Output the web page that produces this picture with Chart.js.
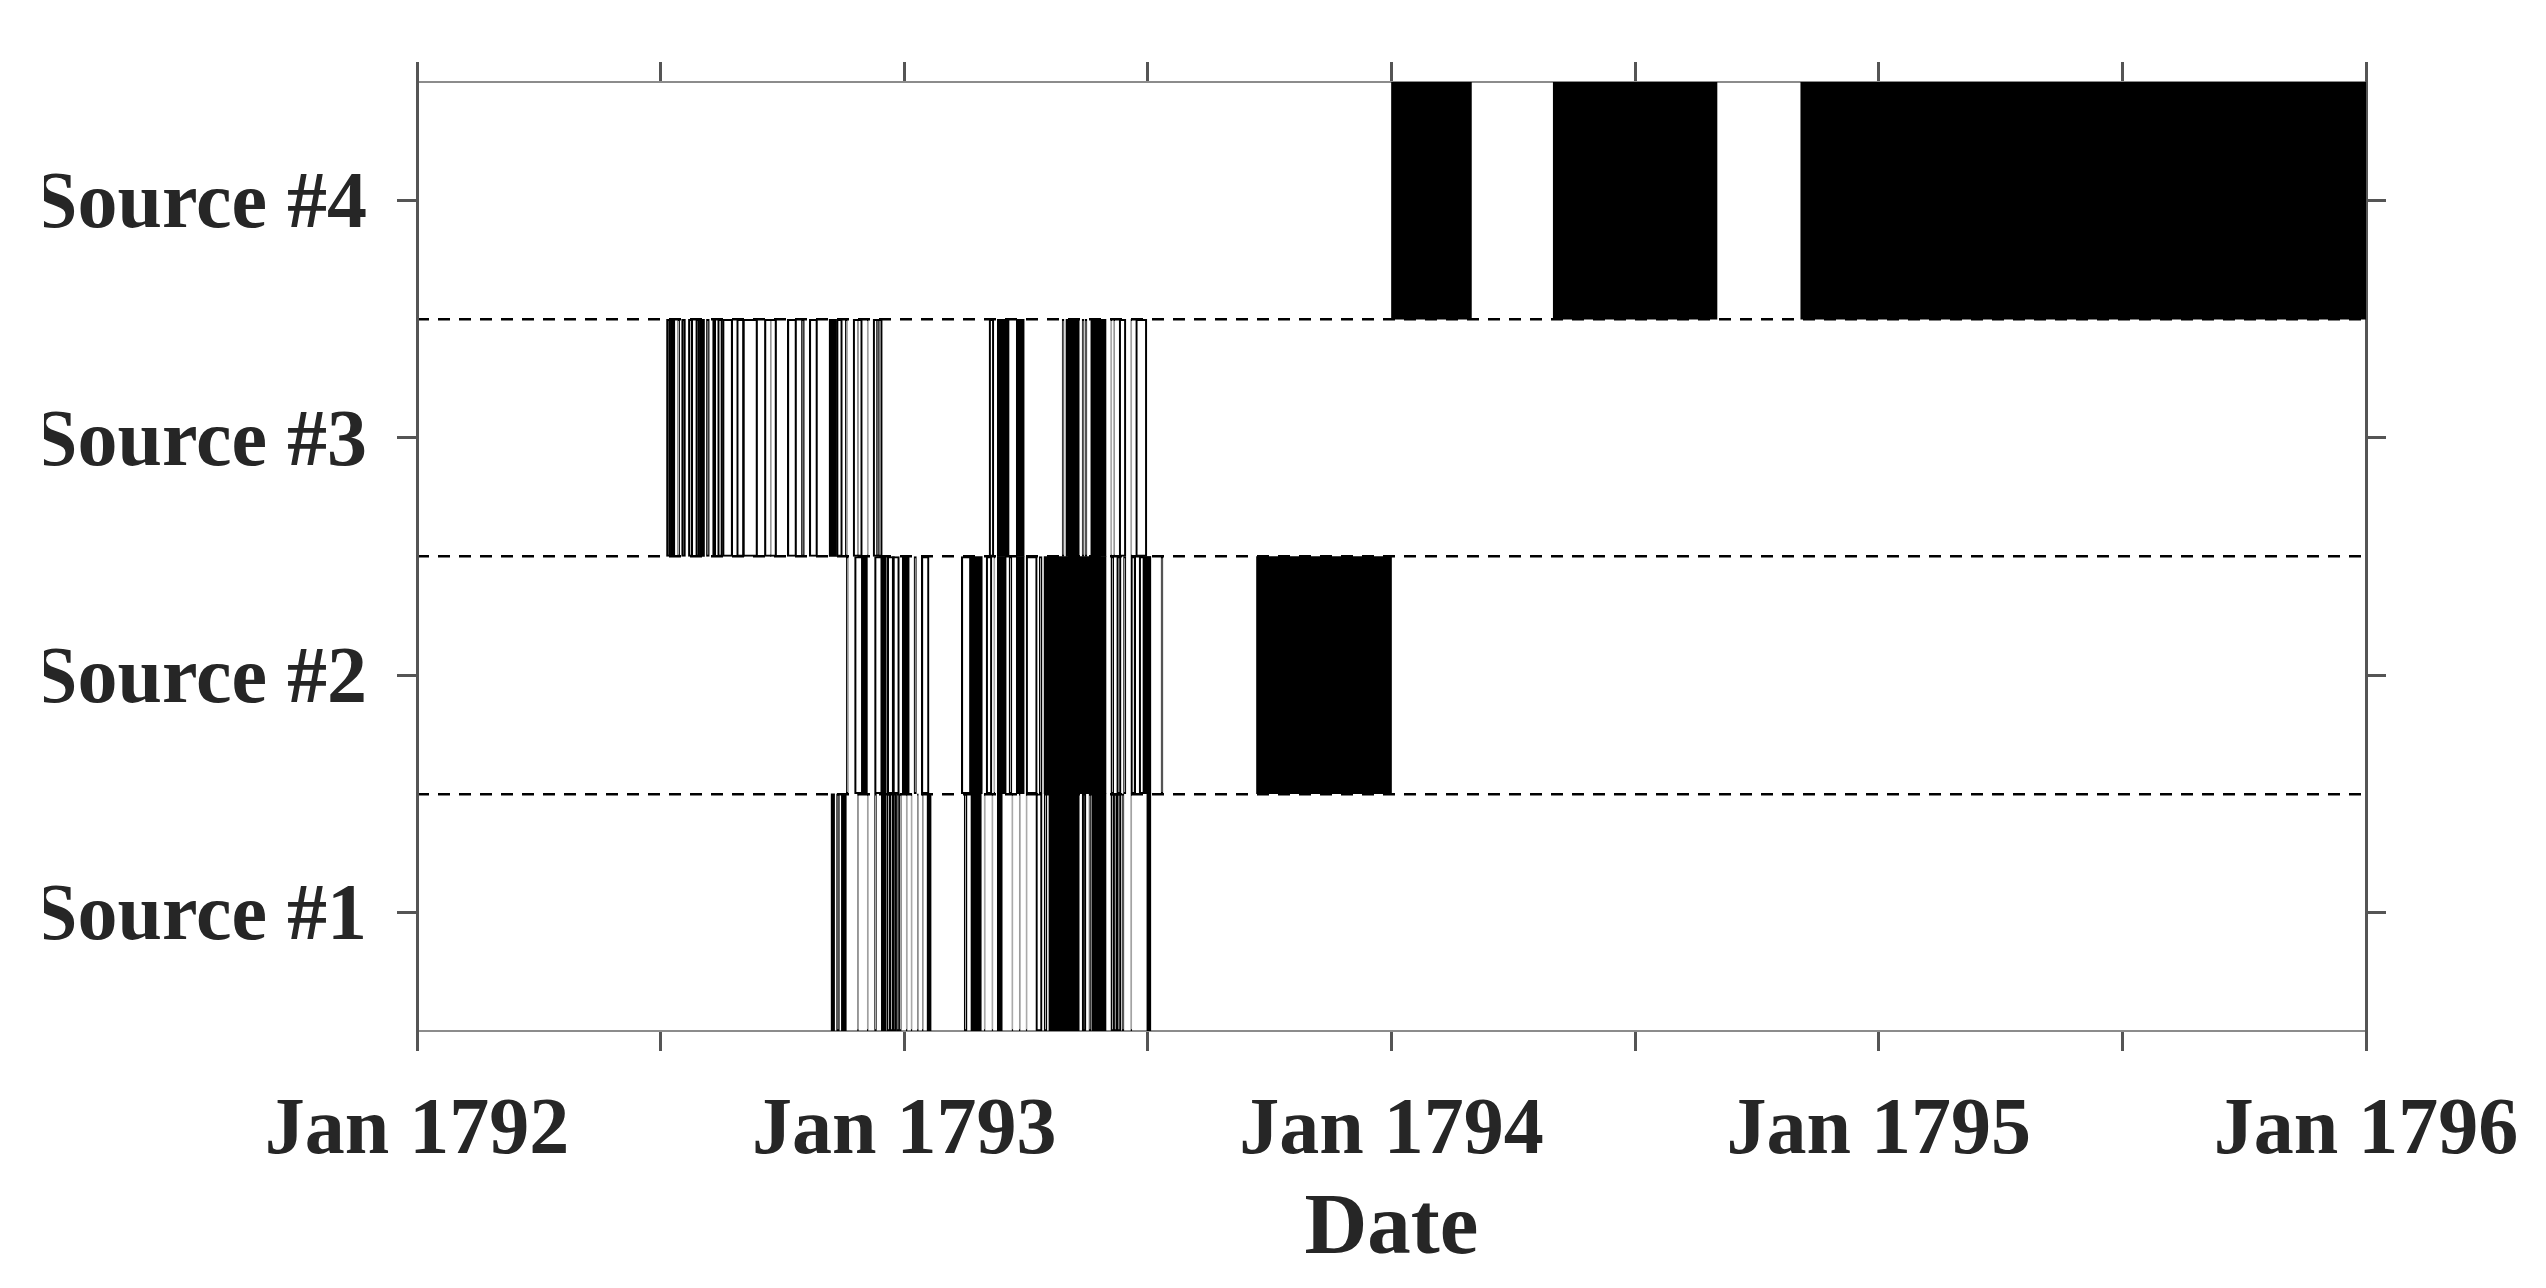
<!DOCTYPE html>
<html>
<head>
<meta charset="utf-8">
<script src="https://cdn.jsdelivr.net/npm/chart.js@4.4.1/dist/chart.umd.min.js"></script>
<style>
  html, body { margin: 0; padding: 0; background: #fff; }
  #wrap { width: 2546px; height: 1288px; }
</style>
</head>
<body>
<div id="wrap"><canvas id="chart"></canvas></div>
<script>
// Bands, top to bottom (category order of the y axis)
const sources = ['Source #4', 'Source #3', 'Source #2', 'Source #1'];

// Year ticks, every half year; only January is labelled
const xMin = 1792;
const xMax = 1796;
const xStep = 0.5;

// Recorded periods as [start, end] in decimal years.
// *Events are drawn as outlined boxes, *Solid as filled blocks.
const source1Events = [
  [1792.861, 1792.867], [1792.904, 1792.906], [1792.924, 1792.926], [1792.939, 1792.943],
  [1792.965, 1792.971], [1792.971, 1792.977], [1792.977, 1792.984], [1792.984, 1792.990],
  [1792.990, 1792.994], [1793.004, 1793.006], [1793.014, 1793.016], [1793.027, 1793.029],
  [1793.037, 1793.039], [1793.123, 1793.129], [1793.164, 1793.166], [1793.180, 1793.182],
  [1793.221, 1793.223], [1793.236, 1793.238], [1793.250, 1793.252], [1793.270, 1793.283],
  [1793.287, 1793.293], [1793.365, 1793.373], [1793.379, 1793.383], [1793.424, 1793.430],
  [1793.430, 1793.436], [1793.436, 1793.445], [1793.447, 1793.451], [1793.465, 1793.467],
];
const source1Solid = [
  [1792.850, 1792.857], [1792.871, 1792.881], [1792.953, 1792.963], [1793.047, 1793.055],
  [1793.137, 1793.158], [1793.191, 1793.201], [1793.297, 1793.359], [1793.385, 1793.414],
  [1793.498, 1793.506],
];

const source2Events = [
  [1792.881, 1792.885], [1792.898, 1792.924], [1792.939, 1792.955], [1792.965, 1792.980],
  [1792.975, 1792.990], [1793.020, 1793.025], [1793.035, 1793.051], [1793.117, 1793.137],
  [1793.168, 1793.180], [1793.184, 1793.186], [1793.215, 1793.221], [1793.250, 1793.273],
  [1793.277, 1793.283], [1793.424, 1793.430], [1793.436, 1793.445], [1793.450, 1793.455],
  [1793.465, 1793.475], [1793.482, 1793.506], [1793.527, 1793.531],
];
const source2Solid = [
  [1792.912, 1792.924], [1792.953, 1792.963], [1792.996, 1793.010], [1793.137, 1793.160],
  [1793.191, 1793.209], [1793.230, 1793.246], [1793.287, 1793.414], [1793.490, 1793.506],
  [1793.723, 1794.000],
];

const source3Events = [
  [1792.512, 1792.520], [1792.535, 1792.539], [1792.543, 1792.551], [1792.557, 1792.566],
  [1792.572, 1792.580], [1792.594, 1792.600], [1792.617, 1792.627], [1792.627, 1792.648],
  [1792.656, 1792.672], [1792.668, 1792.699], [1792.713, 1792.738], [1792.725, 1792.727],
  [1792.760, 1792.779], [1792.789, 1792.795], [1792.805, 1792.822], [1792.861, 1792.873],
  [1792.879, 1792.883], [1792.895, 1792.914], [1792.904, 1792.906], [1792.924, 1792.926],
  [1792.936, 1792.955], [1792.943, 1792.949], [1793.174, 1793.184], [1793.324, 1793.328],
  [1793.365, 1793.369], [1793.371, 1793.375], [1793.424, 1793.426], [1793.430, 1793.432],
  [1793.441, 1793.455], [1793.465, 1793.467], [1793.475, 1793.498],
];
const source3Solid = [
  [1792.520, 1792.529], [1792.580, 1792.590], [1792.607, 1792.613], [1792.846, 1792.861],
  [1793.191, 1793.215], [1793.230, 1793.246], [1793.332, 1793.359], [1793.383, 1793.414],
];

const source4Events = [];
const source4Solid = [
  [1794.000, 1794.164], [1794.332, 1794.668], [1794.840, 1796.000],
];

const eventLists = {
  'Source #1': source1Events, 'Source #2': source2Events,
  'Source #3': source3Events, 'Source #4': source4Events,
};
const solidLists = {
  'Source #1': source1Solid, 'Source #2': source2Solid,
  'Source #3': source3Solid, 'Source #4': source4Solid,
};

function toBars(lists) {
  const out = [];
  sources.forEach((s) => {
    lists[s].forEach(([a, b]) => out.push({ x: [a, b], y: s }));
  });
  return out;
}

const FONT = 'Liberation Serif, Times New Roman, serif';
const TEXT = '#262626';
const AXIS = '#555';
const EDGE = '#8c8c8c';
const tickGrid = { drawOnChartArea: false, offset: false, tickLength: 20, tickColor: AXIS, tickWidth: 3 };

new Chart(document.getElementById('chart'), {
  type: 'bar',
  data: {
    labels: sources,
    datasets: [
      {
        label: 'solid',
        data: toBars(solidLists),
        backgroundColor: '#000',
        borderWidth: 0,
        grouped: false,
        categoryPercentage: 1,
        barPercentage: 1,
      },
      {
        label: 'events',
        data: toBars(eventLists),
        backgroundColor: 'rgba(0,0,0,0)',
        borderColor: '#000',
        borderWidth: 1.5,
        borderSkipped: false,
        grouped: false,
        categoryPercentage: 1,
        barPercentage: 1,
      },
    ],
  },
  options: {
    indexAxis: 'y',
    responsive: true,
    maintainAspectRatio: false,
    animation: false,
    layout: { padding: { left: 44, top: 62, right: 24, bottom: 5 } },
    plugins: { legend: { display: false }, tooltip: { enabled: false } },
    scales: {
      x: {
        type: 'linear',
        position: 'bottom',
        min: xMin,
        max: xMax,
        afterFit: (s) => { s.height = 252; s.paddingRight = 180; },
        ticks: {
          stepSize: xStep,
          autoSkip: false,
          maxRotation: 0,
          padding: 33,
          color: TEXT,
          font: { family: FONT, size: 80, weight: 'bold' },
          callback: (v) => (Number.isInteger(v) ? 'Jan ' + v : ''),
        },
        grid: tickGrid,
        border: { color: EDGE, width: 2 },
        title: {
          display: true,
          text: 'Date',
          color: TEXT,
          padding: { top: 0, bottom: 0 },
          font: { family: FONT, size: 87, weight: 'bold' },
        },
      },
      xTop: {
        type: 'linear',
        position: 'top',
        min: xMin,
        max: xMax,
        afterFit: (s) => { s.height = 20; },
        ticks: { display: false, stepSize: xStep, autoSkip: false },
        grid: tickGrid,
        border: { color: EDGE, width: 2 },
      },
      y: {
        type: 'category',
        position: 'left',
        afterFit: (s) => { s.width = 373; },
        ticks: {
          padding: 30,
          labelOffset: 6,
          color: TEXT,
          font: { family: FONT, size: 80, weight: 'bold' },
        },
        grid: tickGrid,
        border: { color: AXIS, width: 3 },
      },
      yGrid: {
        type: 'linear',
        position: 'left',
        min: 0.5,
        max: 4.5,
        offset: false,
        afterFit: (s) => { s.width = 0; },
        afterBuildTicks: (scale) => {
          scale.ticks = [1.5, 2.5, 3.5].map((v) => ({ value: v }));
        },
        ticks: { display: false },
        grid: { drawTicks: false, offset: false, color: '#000', lineWidth: 2.5 },
        border: { display: false, dash: [12, 9] },
      },
      yRight: {
        type: 'linear',
        position: 'right',
        min: 0.5,
        max: 4.5,
        offset: false,
        afterFit: (s) => { s.width = 20; },
        afterBuildTicks: (scale) => {
          scale.ticks = [1, 2, 3, 4].map((v) => ({ value: v }));
        },
        ticks: { display: false },
        grid: tickGrid,
        border: { color: AXIS, width: 3 },
      },
    },
  },
});
</script>
</body>
</html>
